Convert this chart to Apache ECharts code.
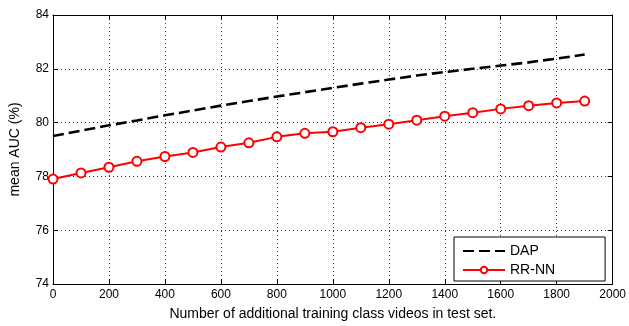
<!DOCTYPE html>
<html>
<head>
<meta charset="utf-8">
<script src="https://cdn.jsdelivr.net/npm/echarts@6/dist/echarts.min.js"></script>
<style>
  html, body { margin: 0; padding: 0; background: #fff; }
  #chart { width: 629px; height: 326px; }
</style>
</head>
<body>
<div id="chart"></div>
<script>
// Number of additional training class videos
var videoCounts = [0, 100, 200, 300, 400, 500, 600, 700, 800, 900, 1000,
                   1100, 1200, 1300, 1400, 1500, 1600, 1700, 1800, 1900];
// mean AUC (%) per method
var dapAUC = [79.50, 79.70, 79.90, 80.08, 80.27, 80.45, 80.63, 80.80, 80.97, 81.13, 81.29,
              81.45, 81.60, 81.75, 81.88, 82.00, 82.12, 82.24, 82.38, 82.53];
var rrnnAUC = [77.90, 78.13, 78.34, 78.56, 78.74, 78.89, 79.09, 79.25, 79.47, 79.60, 79.66,
               79.81, 79.94, 80.09, 80.24, 80.37, 80.51, 80.63, 80.73, 80.80];
var seriesNames = ['DAP', 'RR-NN'];
var xTitle = 'Number of additional training class videos in test set.';
var yTitle = 'mean AUC (%)';

function pairs(xs, ys) {
  return xs.map(function (x, i) { return [x, ys[i]]; });
}

var font = 'Liberation Sans, Arial, sans-serif';
var chart = echarts.init(document.getElementById('chart'), null, { renderer: 'canvas' });

// Top and right axes only close the frame and carry inward ticks
var frameAxis = {
  axisLine: { show: true, onZero: false, lineStyle: { color: '#000', width: 1 } },
  axisTick: { show: true, inside: true, length: 5, lineStyle: { color: '#000' } },
  axisLabel: { show: false },
  splitLine: { show: false }
};
var gridDots = { show: true, lineStyle: { color: '#333', type: [1, 3], width: 1 } };

chart.setOption({
  animation: false,
  grid: { left: 47, right: 14, top: 15, bottom: 39 },
  xAxis: [
    {
      type: 'value', min: 0, max: 2000, interval: 200,
      name: xTitle, nameLocation: 'middle', nameGap: 23,
      nameTextStyle: { fontFamily: font, fontSize: 14, color: '#000' },
      axisLine: { show: true, onZero: false, lineStyle: { color: '#000', width: 1 } },
      axisTick: { show: true, inside: true, length: 5, lineStyle: { color: '#000' } },
      axisLabel: { fontFamily: font, fontSize: 12, color: '#000', margin: 5,
                   formatter: function (v) { return String(v); } },
      splitLine: gridDots
    },
    Object.assign({ type: 'value', position: 'top', min: 0, max: 2000, interval: 200 }, frameAxis)
  ],
  yAxis: [
    {
      type: 'value', min: 74, max: 84, interval: 2,
      name: yTitle, nameLocation: 'middle', nameGap: 31, nameRotate: 90,
      nameTextStyle: { fontFamily: font, fontSize: 14, color: '#000' },
      axisLine: { show: true, onZero: false, lineStyle: { color: '#000', width: 1 } },
      axisTick: { show: true, inside: true, length: 5, lineStyle: { color: '#000' } },
      axisLabel: { fontFamily: font, fontSize: 12, color: '#000', margin: 4 },
      splitLine: gridDots
    },
    Object.assign({ type: 'value', position: 'right', min: 74, max: 84, interval: 2 }, frameAxis)
  ],
  legend: {
    orient: 'vertical',
    left: 454, top: 237,
    padding: [7, 50, 4, 8],
    itemGap: 5,
    itemWidth: 42, itemHeight: 8,
    backgroundColor: '#fff',
    borderColor: '#000', borderWidth: 1,
    textStyle: { fontFamily: font, fontSize: 14, color: '#000' },
    data: [
      { name: seriesNames[0], itemStyle: { color: 'rgba(0,0,0,0)', borderWidth: 0 } },
      { name: seriesNames[1] }
    ]
  },
  series: [
    {
      name: seriesNames[0], type: 'line',
      data: pairs(videoCounts, dapAUC),
      showSymbol: false, symbol: 'none',
      lineStyle: { color: '#000', width: 2.6, type: [11, 5] },
      itemStyle: { color: '#000' },
      z: 3
    },
    {
      name: seriesNames[1], type: 'line',
      data: pairs(videoCounts, rrnnAUC),
      symbol: 'circle', symbolSize: 9,
      lineStyle: { color: '#ff0000', width: 2 },
      itemStyle: { color: '#fff', borderColor: '#ff0000', borderWidth: 2 },
      z: 4
    }
  ]
});
</script>
</body>
</html>
